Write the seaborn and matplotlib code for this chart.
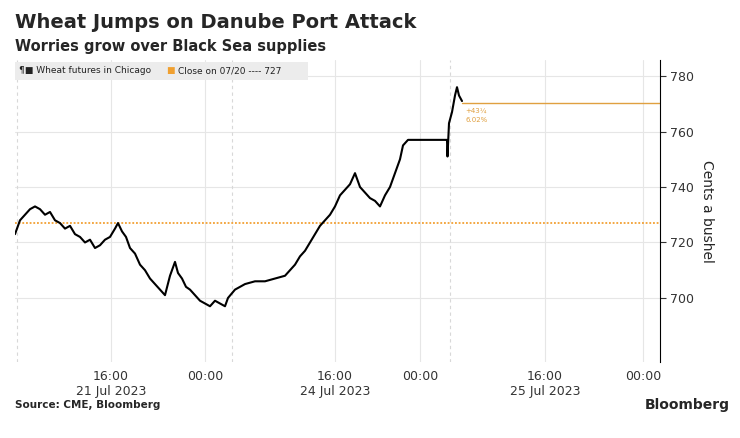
import matplotlib
matplotlib.use('Agg')
import matplotlib.pyplot as plt
from matplotlib.patches import Rectangle
import seaborn as sns
import pandas as pd

# price path, x = position along the trading-session axis
pos = [15, 20, 25, 30, 35, 40, 45, 50, 55, 60, 65, 70, 75, 80, 85, 90, 95, 100, 105, 110,
       115, 118, 122, 126, 130, 135, 140, 145, 150, 155, 160, 165, 170, 175, 178, 182, 186,
       190, 195, 200, 205, 210, 215, 220, 225, 228, 235, 245, 255, 265, 275, 285, 290, 295,
       300, 305, 310, 315, 320, 325, 330, 335, 340, 345, 350, 355, 360, 365, 370, 375, 380,
       385, 390, 395, 400, 403, 408, 420, 430, 440, 446, 447, 447.5, 449, 452, 455, 457, 459, 462]
price = [723, 728, 730, 732, 733, 732, 730, 731, 728, 727, 725, 726, 723, 722, 720, 721, 718, 719, 721, 722,
         725, 727, 724, 722, 718, 716, 712, 710, 707, 705, 703, 701, 708, 713, 709, 707, 704,
         703, 701, 699, 698, 697, 699, 698, 697, 700, 703, 705, 706, 706, 707, 708, 710, 712,
         715, 717, 720, 723, 726, 728, 730, 733, 737, 739, 741, 745, 740, 738, 736, 735, 733,
         737, 740, 745, 750, 755, 757, 757, 757, 757, 757, 757, 751, 763, 767, 773, 776, 773, 771]
close_prev = 727
last_close = 770.25
ticks = [111, 205, 335, 420, 545, 643]
tick_labels = ['16:00\n21 Jul 2023', '00:00', '16:00\n24 Jul 2023', '00:00', '16:00\n25 Jul 2023', '00:00']

df = pd.DataFrame({'pos': pos, 'price': price})

sns.set_style('white')
fig = plt.figure(figsize=(7.4, 4.38), dpi=100)
ax = fig.add_axes([15/740, 1 - 362/438, 645/740, 302/438])

for v in [700, 720, 740, 760, 780]:
    ax.axhline(v, color='#e6e6e6', lw=0.8, zorder=0)
for t in ticks:
    ax.axvline(t, color='#e6e6e6', lw=0.8, zorder=0)
for t in [17, 232, 450]:
    ax.axvline(t, color='#d8d8d8', lw=0.8, ls=(0, (3, 3)), zorder=0)

ax.axhline(close_prev, color='#f09010', lw=1.1, ls=(0, (1.2, 1.2)))
ax.plot([pos[-1], 660], [last_close, last_close], color='#e0a040', lw=1)
sns.lineplot(data=df, x='pos', y='price', color='black', lw=1.5, ax=ax)
ax.text(465, 768.5, '+43¼\n6.02%', color='#e0a040', fontsize=5, va='top', linespacing=1.6)

ax.set_xlim(15, 660)
ax.set_ylim(676.9, 785.8)
ax.yaxis.tick_right()
ax.yaxis.set_label_position('right')
ax.set_yticks([700, 720, 740, 760, 780])
ax.set_xticks(ticks)
ax.set_xticklabels(tick_labels)
ax.tick_params(axis='both', labelsize=9, colors='#333333', length=4)
ax.tick_params(axis='x', length=0, pad=6)
ax.set_ylabel('Cents a bushel', fontsize=10, rotation=270, labelpad=14)
ax.set_xlabel('')
for s in ['top', 'left', 'bottom']:
    ax.spines[s].set_visible(False)
ax.spines['right'].set_color('black')

# legend strip
ax.add_patch(Rectangle((0, 0.935), 0.455, 0.06, transform=ax.transAxes, facecolor='#ececec',
                       edgecolor='none', zorder=3))
ax.text(0.006, 0.965, '¶■ Wheat futures in Chicago', transform=ax.transAxes,
        fontsize=6.5, va='center', color='#222222', zorder=4)
ax.text(0.235, 0.965, '■', transform=ax.transAxes, fontsize=6.5, va='center', color='#f0a030', zorder=4)
ax.text(0.252, 0.965, 'Close on 07/20 ---- 727', transform=ax.transAxes,
        fontsize=6.5, va='center', color='#222222', zorder=4)

fig.text(15/740, 1 - 22/438, 'Wheat Jumps on Danube Port Attack', fontsize=14, weight='bold', va='center')
fig.text(15/740, 1 - 46/438, 'Worries grow over Black Sea supplies', fontsize=10.5, weight='bold', va='center')
fig.text(15/740, 1 - 405/438, 'Source: CME, Bloomberg', fontsize=7.5, weight='bold', va='center')
fig.text(730/740, 1 - 405/438, 'Bloomberg', fontsize=10, weight='bold', va='center', ha='right')

fig.savefig('out.png', dpi=100)
